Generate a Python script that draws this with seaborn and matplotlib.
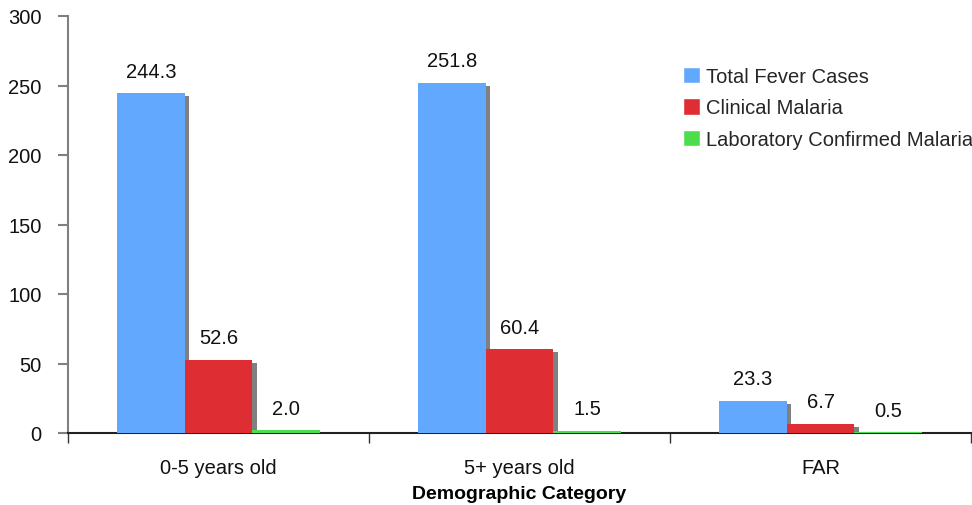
import matplotlib
matplotlib.use("Agg")
import matplotlib.pyplot as plt
import matplotlib.patheffects as pe
import matplotlib.transforms as mtransforms
import seaborn as sns
import pandas as pd

categories = ["0-5 years old", "5+ years old", "FAR"]
series_names = ["Total Fever Cases", "Clinical Malaria", "Laboratory Confirmed Malaria"]
total_fever = [244.3, 251.8, 23.3]
clinical_malaria = [52.6, 60.4, 6.7]
lab_confirmed = [2.0, 1.5, 0.5]
colors = ["#63A8FF", "#DE2D33", "#4CDD4C"]

rows = []
for name, vals in zip(series_names, [total_fever, clinical_malaria, lab_confirmed]):
    for cat, v in zip(categories, vals):
        rows.append({"Demographic Category": cat, "Series": name, "Value": v})
df = pd.DataFrame(rows)

sns.set_theme(style="white")
plt.rcParams["font.family"] = ["Liberation Sans", "DejaVu Sans"]

FS = 14.5

fig = plt.figure(figsize=(9.72, 5.06), dpi=100)
ax = fig.add_axes([68 / 972, 72 / 506, 903 / 972, 417 / 506])

sns.barplot(data=df, x="Demographic Category", y="Value", hue="Series",
            hue_order=series_names, order=categories, palette=colors,
            width=0.675, saturation=1, errorbar=None, ax=ax, legend=True)

shadow = [pe.SimplePatchShadow(offset=(3, -2.2), shadow_rgbFace="#808080", alpha=1.0), pe.Normal()]
for cont in ax.containers:
    for p in cont:
        p.set_edgecolor("none")
        p.set_linewidth(0)
        p.set_zorder(3)
        p.set_path_effects(shadow)
    texts = ax.bar_label(cont, fmt="%.1f", padding=9, fontsize=FS, color="#111111")
    for t in texts:
        t.set_transform(mtransforms.offset_copy(t.get_transform(), fig=fig, x=-3, y=0, units="dots"))

ax.set_xlim(-0.5, 2.5)
ax.set_ylim(0, 300)
ax.set_yticks(range(0, 301, 50))
ax.set_ylabel("")
ax.set_xlabel("Demographic Category", fontsize=14, fontweight="bold", labelpad=6, color="black")

ax.set_xticks([-0.5, 0.5, 1.5, 2.5], minor=True)
ax.tick_params(axis="x", which="major", length=0, pad=18, labelsize=FS, labelcolor="#111111")
ax.tick_params(axis="x", which="minor", length=7, width=1, color="#333333", direction="out", bottom=True)
ax.tick_params(axis="y", length=7, width=1.5, color="#808080", direction="out", left=True,
               pad=12, labelsize=FS, labelcolor="#111111")

for s in ["top", "right"]:
    ax.spines[s].set_visible(False)
ax.spines["left"].set_color("#808080")
ax.spines["left"].set_linewidth(1.5)
ax.spines["bottom"].set_color("#222222")
ax.spines["bottom"].set_linewidth(1.5)
ax.spines["bottom"].set_zorder(1)
ax.spines["left"].set_zorder(1)

leg = ax.get_legend()
if leg is not None:
    leg.remove()
handles, labels = ax.get_legend_handles_labels()
fig.legend(handles, labels, loc="upper left", bbox_to_anchor=(683 / 972, 1 - 68 / 506),
           frameon=False, fontsize=FS, handlelength=0.85, handleheight=0.85,
           handletextpad=0.3, labelspacing=0.62, borderaxespad=0, borderpad=0)

fig.savefig("out.png", dpi=100)
